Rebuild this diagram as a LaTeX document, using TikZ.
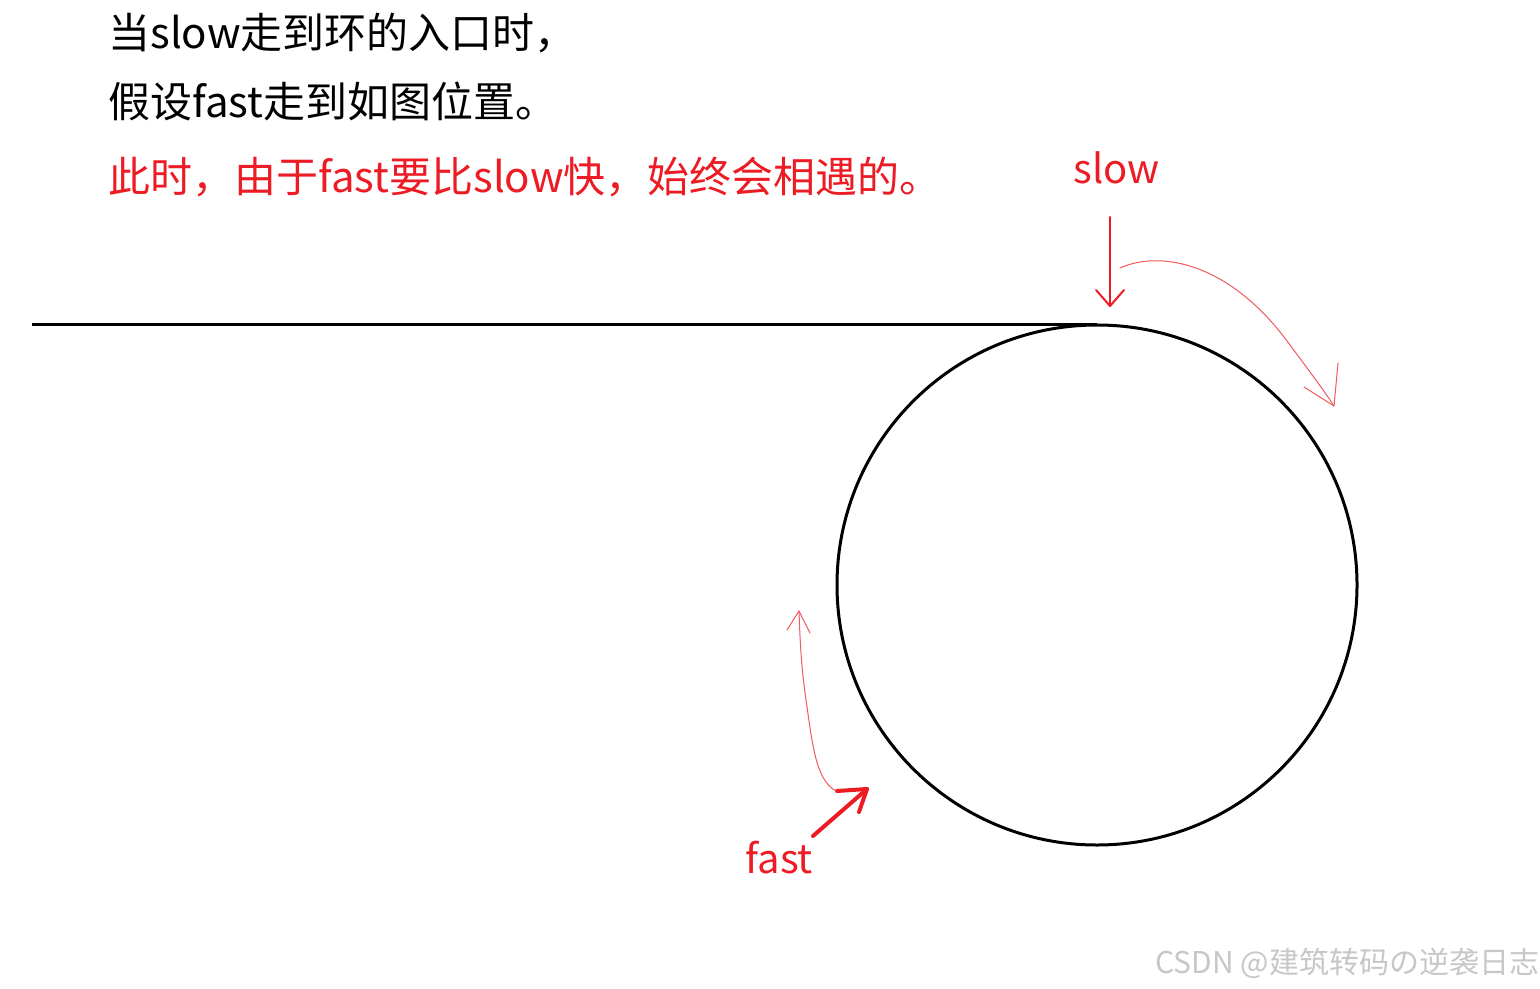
\documentclass[tikz,border=0pt]{standalone}
\usepackage{fontspec}
\setmainfont{Noto Sans CJK SC}
\begin{document}
\begin{tikzpicture}[x=0.5pt,y=-0.5pt,
  redc/.style={color={rgb,255:red,237;green,28;blue,36}},
  bigtext/.style={font=\fontsize{21pt}{25pt}\selectfont, inner sep=0pt, anchor=base west},
  thinred/.style={draw={rgb,255:red,240;green,90;blue,95}, line width=0.5pt, line join=round, line cap=round},
  redarrow/.style={draw={rgb,255:red,237;green,28;blue,36}, line cap=round, line join=round}]
\useasboundingbox (0,0) rectangle (1540,989);
\fill[white] (0,0) rectangle (1540,989);
% texts
\node[bigtext] (t1) at (108,49) {当slow走到环的入口时，};
\node[bigtext] (t2) at (108,118) {假设fast走到如图位置。};
\node[bigtext, redc] (t3) at (108,193) {此时，由于fast要比slow快，始终会相遇的。};
\node[bigtext, redc, font=\fontsize{20pt}{24pt}\selectfont] (slowlbl) at (1073,184) {slow};
\node[bigtext, redc, font=\fontsize{20pt}{24pt}\selectfont] (fastlbl) at (745,873) {fast};
\node[inner sep=0pt, anchor=base west, text=black!22, font=\fontsize{15pt}{18pt}\selectfont] (wm) at (1155,973) {CSDN @建筑转码の逆袭日志};
% list and loop
\node[circle, draw, line width=1.5pt, minimum size=260pt, inner sep=0pt, outer sep=0pt] (loop) at (1097,585) {};
\coordinate (start) at (32,325);
\draw[line width=1.5pt] (start) -- (loop.north);
% slow arrow
\coordinate (s0) at (1110,217);
\coordinate (s1) at (1110,306);
\draw[redarrow, line width=1pt] (s0) -- (s1);
\draw[redarrow, line width=1pt] (1096,290) -- (s1) -- (1124,290);
% slow thin curved arrow
\coordinate (c0) at (1120,268);
\coordinate (c1) at (1334,406);
\draw[thinred] (c0) .. controls (1160,250) and (1230,262) .. (1290,345) .. controls (1310,372) and (1325,392) .. (c1);
\draw[thinred] (1304,387) -- (c1) -- (1338,363);
% fast thick arrow
\coordinate (f0) at (813,836);
\coordinate (f1) at (867,789);
\draw[redarrow, line width=2pt] (f0) -- (f1);
\draw[redarrow, line width=2pt] (837,791) -- (f1) -- (859,812);
% fast thin curved arrow
\coordinate (d0) at (836,791);
\coordinate (d1) at (799,611);
\draw[thinred] (d0) .. controls (815,780) and (812,740) .. (806,700) .. controls (801,665) and (800,640) .. (d1);
\draw[thinred] (787,630) -- (d1) -- (810,633);
\end{tikzpicture}
\end{document}
